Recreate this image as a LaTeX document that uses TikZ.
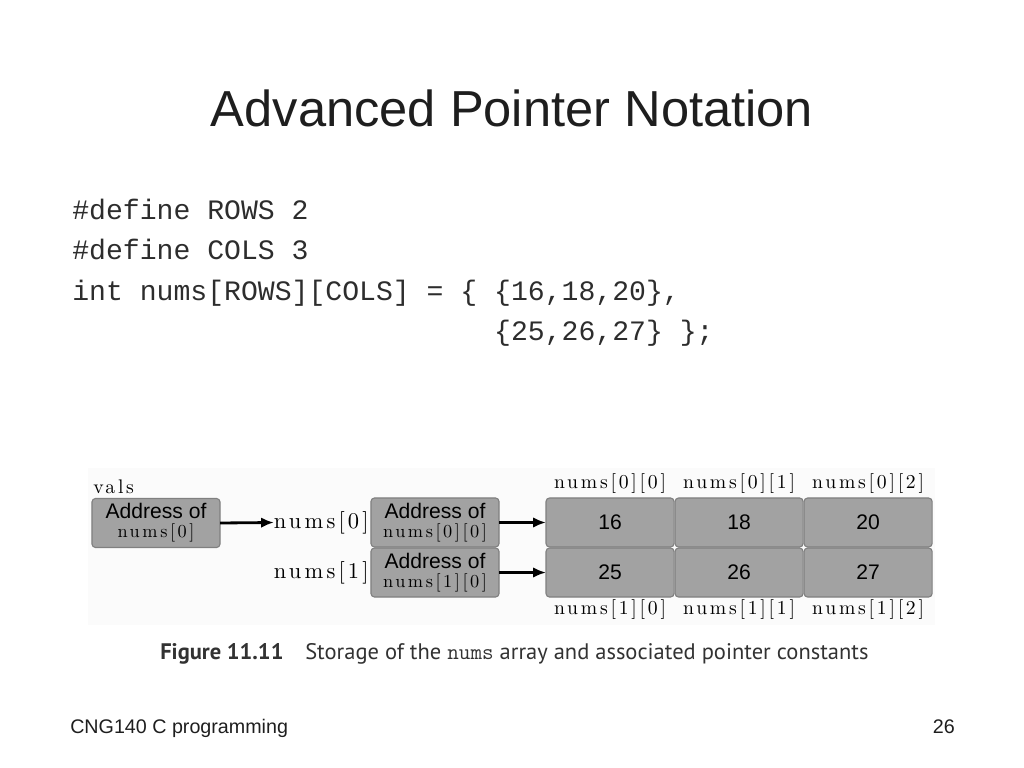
\documentclass[tikz,border=0pt]{standalone}
\usepackage{fontspec}
\newfontfamily\arialfont{Liberation Sans}
\newfontfamily\courierfont{Liberation Mono}
\newfontfamily\capfont{PT Sans}
\newfontfamily\spacedfont{lmroman10-regular}[Extension=.otf, LetterSpace=14]
\usetikzlibrary{arrows.meta,positioning}
\definecolor{cellfill}{RGB}{162,162,162}
\definecolor{cellborder}{RGB}{128,128,128}
\definecolor{figbg}{RGB}{251,251,251}
\definecolor{textcol}{RGB}{30,30,30}
\definecolor{codecol}{RGB}{45,45,45}
\definecolor{capcol}{RGB}{50,50,50}
% spaced roman for the array names
\newcommand{\spc}[2][14pt]{{\spacedfont\fontsize{#1}{13.5pt}\selectfont #2}}

\begin{document}
\begin{tikzpicture}[
  x=0.025cm, y=-0.025cm,
  >=Latex,
  cell/.style={
    draw=cellborder,
    fill=cellfill,
    rounded corners=2.5pt,
    line width=0.8pt,
    minimum width=3.2cm,
    minimum height=1.225cm,
    inner sep=0pt,
    outer sep=0pt,
    align=center,
    font=\arialfont\fontsize{15pt}{13.5pt}\selectfont
  },
  idx/.style={inner sep=0pt, outer sep=0pt},
  side/.style={inner sep=0pt, outer sep=0pt},
  ptr/.style={-{Latex[length=3.2mm,width=2.6mm]}, line width=2pt},
  codeline/.style={anchor=base west, inner sep=0pt, text=codecol,
    font=\courierfont\fontsize{20pt}{24pt}\selectfont}
]
\useasboundingbox (0,0) rectangle (1024,768);

% ========== Title and code ==========
\node[anchor=base, inner sep=0pt, text=textcol, font=\arialfont\fontsize{36pt}{40pt}\selectfont]
  (title) at (512,127) {Advanced Pointer Notation};

\node[codeline] (code1) at (72,219) {\#define ROWS 2};
\node[codeline] (code2) at (72,259) {\#define COLS 3};
\node[codeline] (code3) at (72,300) {int nums[ROWS][COLS] = \{ \{16,18,20\},};
\node[codeline] (code4) at (72,340) {\phantom{int nums[ROWS][COLS] = \{ }\{25,26,27\} \};};

% ========== Figure ==========
\fill[figbg] (88,468) rectangle (935,625);

\node[cell] (addr0) at (156,523) {Address of\\\spc[13pt]{nums[0]}};
\node[idx, above=0.12cm of addr0.north west, anchor=south west, xshift=1pt] (vals) {\spc{vals}};

\node[cell] (addr00) at (435,522.5) {Address of\\\spc[13pt]{nums[0][0]}};
\node[cell, below=0.025cm of addr00] (addr10) {Address of\\\spc[13pt]{nums[1][0]}};

\node[side, left=0.06cm of addr00] (n0) {\spc[16pt]{nums[0]}};
\node[side, left=0.06cm of addr10] (n1) {\spc[16pt]{nums[1]}};

% array cells
\node[cell, right=1.175cm of addr00] (c00) {16};
\node[cell, right=0.025cm of c00] (c01) {18};
\node[cell, right=0.025cm of c01] (c02) {20};
\node[cell, below=0.025cm of c00] (c10) {25};
\node[cell, below=0.025cm of c01] (c11) {26};
\node[cell, below=0.025cm of c02] (c12) {27};

% element names
\node[idx, above=0.12cm of c00] (l00) {\spc{nums[0][0]}};
\node[idx, above=0.12cm of c01] (l01) {\spc{nums[0][1]}};
\node[idx, above=0.12cm of c02] (l02) {\spc{nums[0][2]}};
\node[idx, below=0.08cm of c10] (l10) {\spc{nums[1][0]}};
\node[idx, below=0.08cm of c11] (l11) {\spc{nums[1][1]}};
\node[idx, below=0.08cm of c12] (l12) {\spc{nums[1][2]}};

% pointers
\draw[ptr] (addr0.east) -- (n0.west);
\draw[ptr] (addr00.east) -- (c00.west);
\draw[ptr] (addr10.east) -- (c10.west);

% caption
\node[anchor=base west, inner sep=0pt, text=capcol, font=\capfont\fontsize{16pt}{18pt}\selectfont\bfseries]
  (capnum) at (160,659) {Figure 11.11};
\node[anchor=base west, inner sep=0pt, text=capcol, font=\capfont\fontsize{16pt}{18pt}\selectfont]
  (captext) at (305,659) {Storage of the {\ttfamily nums} array and associated pointer constants};

% ========== Footer ==========
\node[anchor=base west, inner sep=0pt, text=textcol, font=\arialfont\fontsize{14pt}{16pt}\selectfont]
  (foot) at (70,733) {CNG140 C programming};
\node[anchor=base east, inner sep=0pt, text=textcol, font=\arialfont\fontsize{14pt}{16pt}\selectfont]
  (page) at (955,733) {26};

\end{tikzpicture}
\end{document}
